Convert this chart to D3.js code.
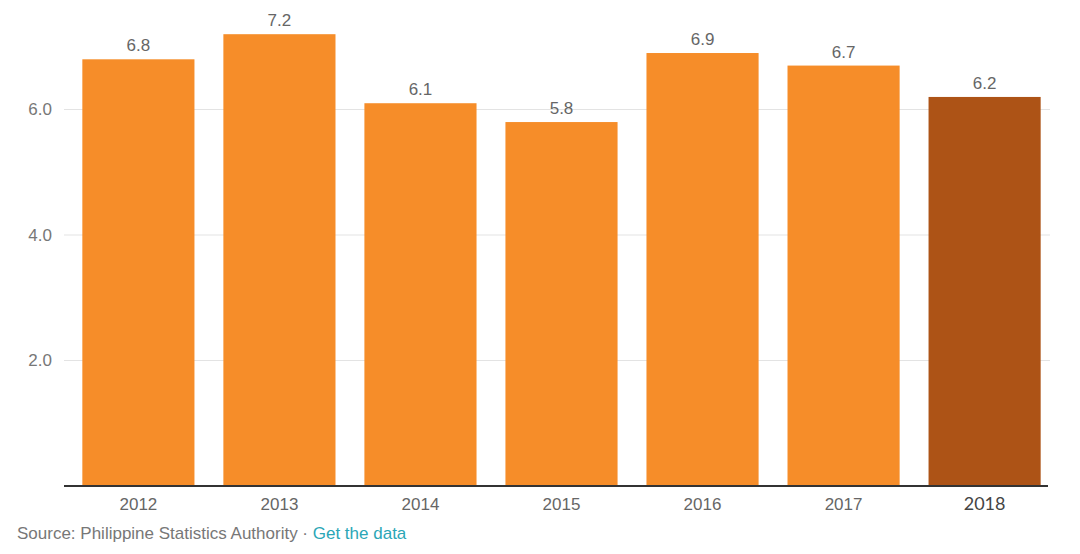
<!DOCTYPE html>
<html><head><meta charset="utf-8">
<script src="https://cdn.jsdelivr.net/npm/d3@7"></script>
<style>body{margin:0;background:#fff}svg{display:block}</style>
</head><body>
<svg id="c" width="1080" height="554"></svg>
<script>
const years = ["2012","2013","2014","2015","2016","2017","2018"];
const growth = [6.8, 7.2, 6.1, 5.8, 6.9, 6.7, 6.2];
const yTicks = [2, 4, 6];
const highlightYear = "2018";

const svg = d3.select("#c");
const x = d3.scaleBand().domain(years).range([64, 1059]).paddingInner(0.205).paddingOuter(0.13);
const y = d3.scaleLinear().domain([0, 6]).range([486, 109.5]);
const FONT = "Liberation Sans, Arial, sans-serif";

svg.append("g").selectAll("line").data(yTicks).join("line")
  .attr("x1", 64).attr("x2", 1050)
  .attr("y1", d => y(d)).attr("y2", d => y(d))
  .attr("stroke", "#e3e3e3").attr("stroke-width", 1);

svg.append("g").selectAll("text").data(yTicks).join("text")
  .attr("x", 52).attr("y", d => y(d)).attr("dy", "0.35em")
  .attr("text-anchor", "end")
  .attr("font-family", FONT).attr("font-size", 17)
  .attr("fill", "#777").text(d => d.toFixed(1));

const data = years.map((yr, i) => ({yr, v: growth[i]}));

svg.append("g").selectAll("rect").data(data).join("rect")
  .attr("x", d => x(d.yr)).attr("width", x.bandwidth())
  .attr("y", d => y(d.v)).attr("height", d => y(0) - y(d.v))
  .attr("fill", d => d.yr === highlightYear ? "#AD5316" : "#F68D29");

svg.append("g").selectAll("text").data(data).join("text")
  .attr("x", d => x(d.yr) + x.bandwidth()/2).attr("y", d => y(d.v) - 8)
  .attr("text-anchor", "middle")
  .attr("font-family", FONT).attr("font-size", 17)
  .attr("fill", "#666").text(d => d.v.toFixed(1));

svg.append("line").attr("x1", 64).attr("x2", 1048)
  .attr("y1", y(0)).attr("y2", y(0))
  .attr("stroke", "#333").attr("stroke-width", 2);

svg.append("g").selectAll("text").data(years).join("text")
  .attr("x", d => x(d) + x.bandwidth()/2).attr("y", 510)
  .attr("text-anchor", "middle")
  .attr("font-family", d => d === highlightYear ? "Lato, Open Sans, sans-serif" : FONT)
  .attr("font-size", d => d === highlightYear ? 18 : 17)
  .attr("fill", d => d === highlightYear ? "#444" : "#666").text(d => d);

const src = svg.append("text").attr("x", 17).attr("y", 539)
  .attr("font-family", FONT).attr("font-size", 17);
src.append("tspan").attr("fill", "#777").text("Source: Philippine Statistics Authority · ");
src.append("tspan").attr("fill", "#2BA6B6").text("Get the data");
</script>
</body></html>
